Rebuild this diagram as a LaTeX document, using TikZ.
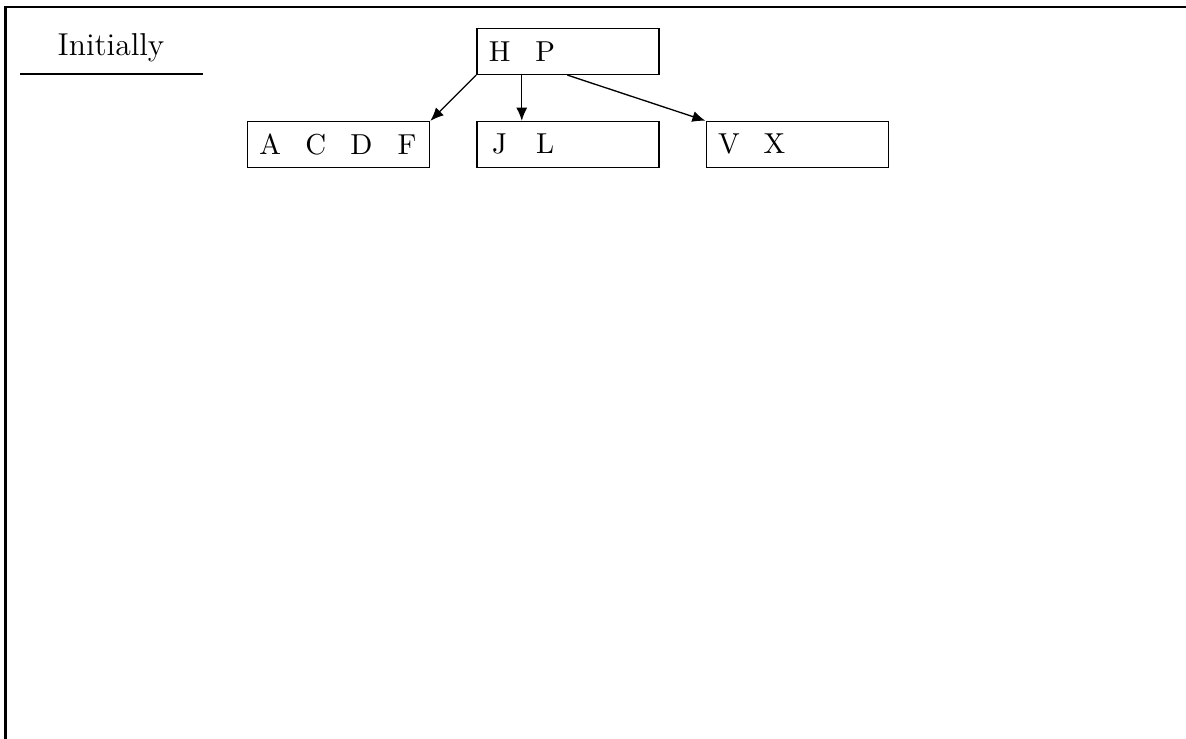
\documentclass[tikz,border=0pt]{standalone}
\usepackage{tikz}
\usetikzlibrary{arrows.meta,positioning}
% one key per quarter of a node box
\newcommand{\keyslot}[1]{\makebox[0.6075cm]{#1}}

\begin{document}
\begin{tikzpicture}[
        box/.style={draw,line width=0.5pt,minimum width=2.43cm,
                    minimum height=0.61cm,inner sep=0pt,text centered,
                    font=\fontsize{10.95}{13.6}\selectfont},
        arr/.style={-{Latex[length=5pt,width=4.2pt]},line width=0.5pt},
      ]
        \useasboundingbox (0,0) rectangle (15.813,-9.84);
        % page frame
        \draw[line width=1pt](0.07,-9.9)--(0.07,-0.093)--(15.9,-0.093);
        \node(init) at (1.48,-0.64){\large Initially};
        \draw[line width=0.6pt](0.267,-0.987)--(2.707,-0.987);
        \node[box](hp) at (7.573,-0.687){%
          \keyslot{H}\keyslot{P}\keyslot{}\keyslot{}};
        \node[box,below=0.61cm of hp](jl){%
          \keyslot{J}\keyslot{L}\keyslot{}\keyslot{}};
        \node[box,left=0.61cm of jl](acdf){%
          \keyslot{A}\keyslot{C}\keyslot{D}\keyslot{F}};
        \node[box,right=0.61cm of jl](vx){%
          \keyslot{V}\keyslot{X}\keyslot{}\keyslot{}};
        \draw[arr](hp.south west)--(acdf.north east);
        \draw[arr]([xshift=0.6075cm]hp.south west)
          --([xshift=0.6075cm]jl.north west);
        \draw[arr]([xshift=1.215cm]hp.south west)--(vx.north west);
      \end{tikzpicture}
\end{document}
